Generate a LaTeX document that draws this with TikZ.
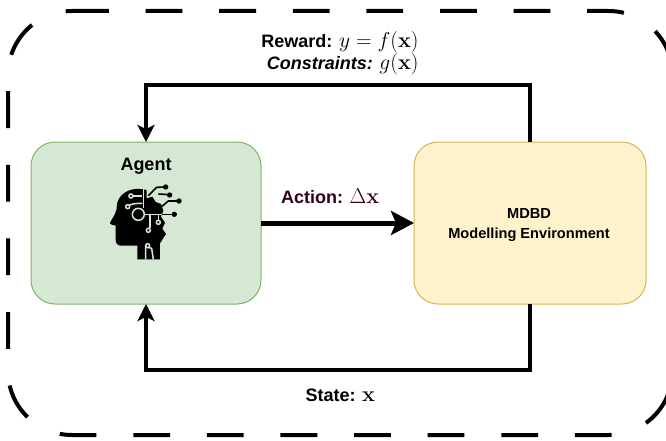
\RequirePackage{fix-cm}
\documentclass[tikz,border=0pt]{standalone}
\usepackage[no-math]{fontspec}
\setmainfont{Liberation Sans}
\usetikzlibrary{arrows.meta}
\DeclareMathSizes{18}{21.6}{15}{12}
\definecolor{agentfill}{HTML}{D5E8D4}
\definecolor{agentline}{HTML}{82B366}
\definecolor{envfill}{HTML}{FFF2CC}
\definecolor{envline}{HTML}{D6B656}
\definecolor{actioncol}{HTML}{33001A}
\tikzset{
  boxnode/.style={draw,line width=1pt,rounded corners=24pt,minimum height=162pt,inner sep=0pt,outer sep=0pt},
  loopline/.style={draw=black,line width=4pt,-{Stealth[length=17pt,width=17pt,inset=4pt]}},
  mainline/.style={draw=black,line width=5pt,-{Stealth[length=23pt,width=24pt,inset=5pt]}},
  lab/.style={font=\fontsize{18}{22}\selectfont\bfseries,inner sep=0pt,outer sep=0pt},
  frameline/.style={draw=black,line width=4pt,dash pattern=on 36.8pt off 36.8pt},
  circ/.style={draw=agentfill,line width=1.5pt}
}
\begin{document}
\begin{tikzpicture}[x=1pt,y=-1pt]
\useasboundingbox (0,0) rectangle (666,441);
\clip (0,0) rectangle (666,441);
\fill[white] (0,0) rectangle (666,441);
% dashed frame
\draw[frameline] (72,11) -- (608.5,11)
  .. controls (643.85,11) and (672.5,39.65) .. (672.5,75)
  -- (672.5,371)
  .. controls (672.5,406.35) and (643.85,435) .. (608.5,435)
  -- (72,435)
  .. controls (36.65,435) and (8,406.35) .. (8,371)
  -- (8,75)
  .. controls (8,39.65) and (36.65,11) .. (72,11);
% boxes
\node[boxnode,fill=agentfill,draw=agentline,minimum width=230pt] (agent) at (146,223) {};
\node[boxnode,fill=envfill,draw=envline,minimum width=232pt] (env) at (530,223) {};
\coordinate (topy) at (0,84.7);
\coordinate (boty) at (0,370);
% connectors
\draw[loopline] (env.north) -- (env.north |- topy) -- (agent.north |- topy) -- (agent.north);
\draw[loopline] (env.south) -- (env.south |- boty) -- (agent.south |- boty) -- (agent.south);
\draw[mainline] (agent.east) -- (env.west);
% labels
\node[lab,anchor=base] (agentlab) at (146,170) {Agent};
\node[lab,anchor=base east,align=right] (topb) at (418.5,70) {\textit{Constraints:} $g(\mathbf{x})$};
\node[lab,anchor=base east,align=right] (topa) at (418.5,48) {Reward: $y=f(\mathbf{x})$};
\node[lab,anchor=base west,text=actioncol] (actlab) at (281,203) {Action: $\Delta\mathbf{x}$};
\node[lab,anchor=base west] (statelab) at (305.5,401) {State: $\mathbf{x}$};
\node[font=\fontsize{14.6}{20}\selectfont\bfseries,align=center,inner sep=0pt] (envlab) at (529,225) {MDBD\\Modelling Environment};
% icon
\begin{scope}[shift={(105,180)},x=0.3333pt,y=-0.3333pt]
 \fill[black] (105,27) .. controls (72,24) and (44,42) .. (37,68)
   .. controls (34,85) and (36,92) .. (30,102) -- (15,128) .. controls (14,133) and (24,136) .. (32,137)
   -- (32,180) .. controls (32,192) and (40,197) .. (50,197) -- (97,197) -- (97,238) -- (165,238)
   -- (165,190) -- (183,162) -- (172,146) -- (180,128) -- (168,110) -- (175,92)
   -- (168,72) -- (152,66) -- (142,50) -- (125,55) -- (125,30) .. controls (118,28) and (112,27) .. (105,27) -- cycle;
 % outer leads
 \draw[black,line width=1.6pt] (130,47) -- (155,22) -- (180,21);
 \fill[black] (182,21) circle (8);
 \draw[black,line width=1.6pt] (160,42) -- (192,44);
 \fill[black] (194,45) circle (8);
 \draw[black,line width=1.6pt] (165,84) -- (190,63) -- (220,63);
 \fill[black] (222,63) circle (8);
 \draw[black,line width=1.6pt] (170,103) -- (205,103);
 \fill[black] (208,103) circle (8);
 % inner traces
 \draw[circ] (115,28) -- (115,84);
 \draw[circ] (80,48) -- (112,48);
 \draw[circ] (70,78) .. controls (78,72) and (88,70) .. (112,70);
 \draw[circ] (119,103) -- (172,103);
 \draw[circ] (135,103) -- (135,145);
 \draw[circ] (160,103) -- (160,122);
 \draw[circ] (122,238) -- (122,200) -- (140,205) -- (145,238);
 \fill[black] (100,103) circle (14);
 \draw[circ] (100,103) circle (18);
 \draw[circ,fill=black] (78,48) circle (6);
 \draw[circ,fill=black] (68,80) circle (6);
 \draw[circ,fill=black] (160,127) circle (6);
 \draw[circ,fill=black] (130,151) circle (6);
 \draw[circ,fill=black] (128,197) circle (6);
\end{scope}
\end{tikzpicture}
\end{document}
